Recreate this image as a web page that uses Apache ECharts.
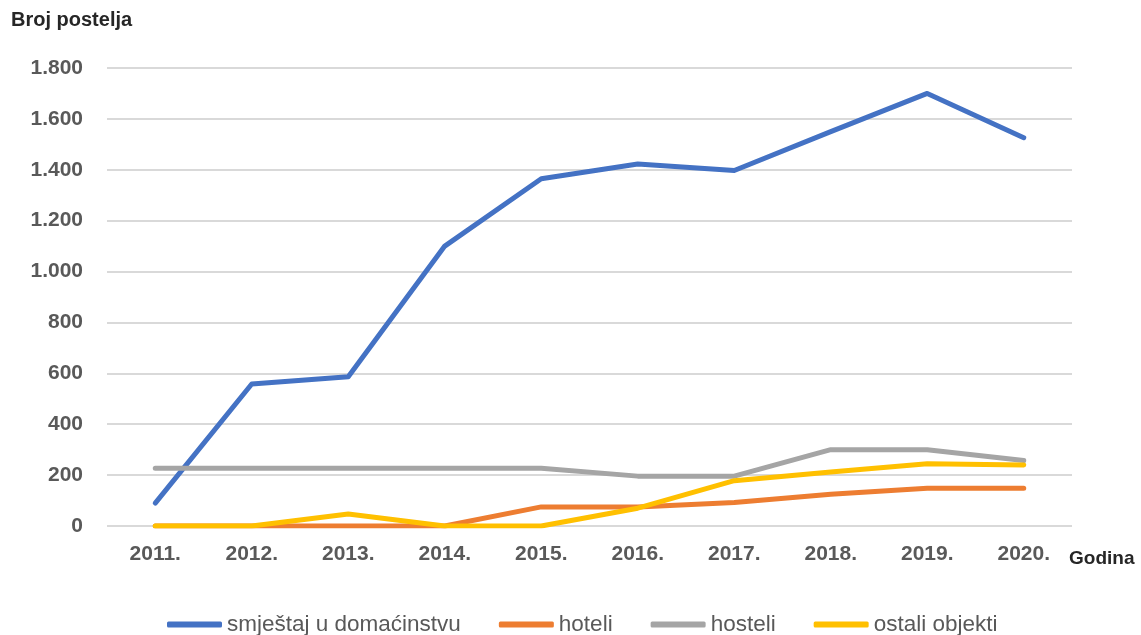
<!DOCTYPE html>
<html>
<head>
<meta charset="utf-8">
<script src="https://cdn.jsdelivr.net/npm/echarts@6/dist/echarts.min.js"></script>
<style>
  html, body { margin: 0; padding: 0; background: #fff; }
  #chart { width: 1141px; height: 635px; }
</style>
</head>
<body>
<div id="chart"></div>
<script>
// Years on the category axis
const years = ['2011.', '2012.', '2013.', '2014.', '2015.', '2016.', '2017.', '2018.', '2019.', '2020.'];

// Number of beds by accommodation type
const domacinstvo = [90, 558, 587, 1100, 1365, 1423, 1397, 1550, 1700, 1526];
const hoteli      = [0, 0, 0, 0, 75, 75, 92, 125, 148, 148];
const hosteli     = [227, 227, 227, 227, 227, 196, 196, 300, 300, 257];
const ostali      = [0, 0, 47, 0, 0, 70, 178, 212, 245, 240];

// Y axis ticks
const yTicks = { min: 0, max: 1800, interval: 200 };

const FONT = '"Liberation Sans", "DejaVu Sans", sans-serif';
const AXIS_TEXT = '#595959';

const fmt = v => String(v).replace(/\B(?=(\d{3})+(?!\d))/g, '.');

function lineSeries(name, data, color) {
  return {
    name, type: 'line', data,
    symbol: 'none',
    lineStyle: { width: 5, color, cap: 'round', join: 'round' },
    itemStyle: { color },
    emphasis: { disabled: true }
  };
}

const chart = echarts.init(document.getElementById('chart'), null, { renderer: 'canvas' });
chart.setOption({
  animation: false,
  backgroundColor: '#fff',
  grid: { left: 107, right: 69, top: 68, bottom: 109 },
  xAxis: {
    type: 'category',
    data: years,
    boundaryGap: true,
    axisLine: { show: false },
    axisTick: { show: false },
    axisLabel: { color: AXIS_TEXT, fontFamily: FONT, fontWeight: 'bold', fontSize: 21, margin: 18 }
  },
  yAxis: {
    type: 'value',
    min: yTicks.min, max: yTicks.max, interval: yTicks.interval,
    axisLine: { show: false },
    axisTick: { show: false },
    splitLine: { lineStyle: { color: '#d9d9d9', width: 2 } },
    axisLabel: { color: AXIS_TEXT, fontFamily: FONT, fontWeight: 'bold', fontSize: 21, margin: 24, formatter: fmt }
  },
  legend: {
    top: 608,
    left: 162,
    icon: 'roundRect',
    itemWidth: 55,
    itemHeight: 6,
    itemGap: 38,
    textStyle: { color: AXIS_TEXT, fontFamily: FONT, fontSize: 22.5 },
    data: ['smještaj u domaćinstvu', 'hoteli', 'hosteli', 'ostali objekti']
  },
  graphic: [
    { type: 'text', left: 11, top: 10,
      style: { text: 'Broj postelja', font: 'bold 20px ' + FONT, fill: '#262626' } },
    { type: 'text', left: 1069, top: 549,
      style: { text: 'Godina', font: 'bold 19px ' + FONT, fill: '#262626' } }
  ],
  series: [
    lineSeries('smještaj u domaćinstvu', domacinstvo, '#4472C4'),
    lineSeries('hoteli', hoteli, '#ED7D31'),
    lineSeries('hosteli', hosteli, '#A5A5A5'),
    lineSeries('ostali objekti', ostali, '#FFC000')
  ]
});
</script>
</body>
</html>
